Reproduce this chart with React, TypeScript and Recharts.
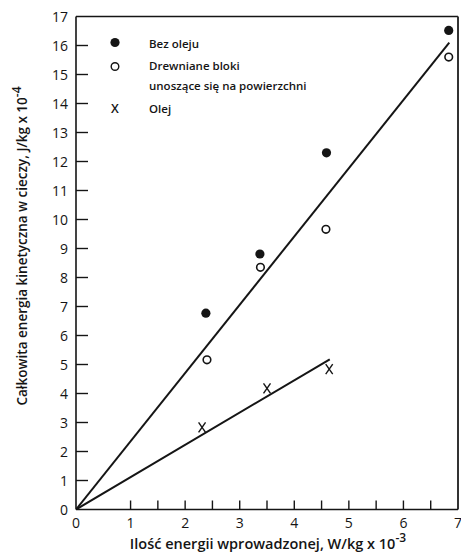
import React from "react";
import { ReferenceLine, Scatter, ScatterChart, XAxis, YAxis } from "recharts";

// measured points
const BEZ_OLEJU_X = [2.38, 3.37, 4.59, 6.83];
const BEZ_OLEJU_Y = [6.77, 8.81, 12.3, 16.52];
const BLOKI_X = [2.4, 3.38, 4.58, 6.83];
const BLOKI_Y = [5.16, 8.35, 9.66, 15.6];
const OLEJ_X = [2.31, 3.5, 4.64];
const OLEJ_Y = [2.83, 4.18, 4.84];

// fitted lines (start and end points)
const FIT_ALL_X = [0, 6.84];
const FIT_ALL_Y = [0, 16.1];
const FIT_OLEJ_X = [0, 4.65];
const FIT_OLEJ_Y = [0, 5.18];

const X_TICKS = [0, 1, 1.5, 2, 2.5, 3, 3.5, 4, 4.5, 5, 5.5, 6, 6.5, 7];
const Y_TICKS = [0, 1, 2, 3, 4, 5, 6, 7, 8, 9, 10, 11, 12, 13, 14, 15, 16, 17];

const zip = (xs: number[], ys: number[]) => xs.map((x, i) => ({ x, y: ys[i] }));

const INK = "#151515";
const FONT = "'Open Sans', 'Noto Sans', sans-serif";

const YTick = (props: any) => {
  const { x, y, payload } = props;
  const v = payload.value;
  const axisX = x + 8;
  return (
    <g>
      {v > 0 && v < 17 && (
        <line x1={axisX} x2={axisX + 12} y1={y} y2={y} stroke={INK} strokeWidth={1.4} />
      )}
      <text x={x} y={y} textAnchor="end" dominantBaseline="central" fontSize={14} fill={INK} fontFamily={FONT}>
        {v}
      </text>
    </g>
  );
};

const XTick = (props: any) => {
  const { x, y, payload } = props;
  const v = payload.value;
  const axisY = y - 8;
  return (
    <g>
      {v >= 1 && v < 7 && (
        <line x1={x} x2={x} y1={axisY} y2={axisY - 9} stroke={INK} strokeWidth={1.4} />
      )}
      {Number.isInteger(v) && (
        <text x={x} y={axisY + 13} textAnchor="middle" dominantBaseline="central" fontSize={14} fill={INK} fontFamily={FONT}>
          {v}
        </text>
      )}
    </g>
  );
};

const Dot = (p: any) => <circle cx={p.cx} cy={p.cy} r={4.6} fill={INK} />;
const Ring = (p: any) => (
  <circle cx={p.cx} cy={p.cy} r={3.8} fill="#fff" stroke={INK} strokeWidth={1.6} />
);
const Cross = (p: any) => (
  <g stroke={INK} strokeWidth={1.4}>
    <line x1={p.cx - 3.5} y1={p.cy - 5} x2={p.cx + 3.5} y2={p.cy + 5} />
    <line x1={p.cx + 3.5} y1={p.cy - 5} x2={p.cx - 3.5} y2={p.cy + 5} />
  </g>
);
const NoShape = () => <g />;

function Legend() {
  const txt = { fontSize: 11.5, fontWeight: 600, fill: INK, fontFamily: FONT } as const;
  return (
    <svg width={461} height={553} style={{ position: "absolute", left: 0, top: 0, pointerEvents: "none" }}>
      <circle cx={115} cy={42.5} r={4.6} fill={INK} />
      <text x={149} y={43} dominantBaseline="central" {...txt}>Bez oleju</text>
      <circle cx={115} cy={66.5} r={3.8} fill="#fff" stroke={INK} strokeWidth={1.4} />
      <text x={149} y={65.5} dominantBaseline="central" {...txt}>Drewniane bloki</text>
      <text x={149} y={85.5} dominantBaseline="central" {...txt}>unoszące się na powierzchni</text>
      <text x={115} y={108.5} textAnchor="middle" dominantBaseline="central" {...txt} fontSize={12.5}>X</text>
      <text x={149} y={108} dominantBaseline="central" {...txt}>Olej</text>

      <text
        transform="translate(22 246) rotate(-90)"
        textAnchor="middle"
        dominantBaseline="central"
        fontSize={13.5}
        fontWeight={600}
        fill={INK}
        fontFamily={FONT}
      >
        Całkowita energia kinetyczna w cieczy, J/kg x 10
        <tspan dy={-6} fontSize={12}>-4</tspan>
      </text>
      <text x={268} y={543} textAnchor="middle" dominantBaseline="central" fontSize={14.5} fontWeight={600} fill={INK} fontFamily={FONT}>
        Ilość energii wprowadzonej, W/kg x 10
        <tspan dy={-6} fontSize={12}>-3</tspan>
      </text>
    </svg>
  );
}

export default function App() {
  return (
    <div style={{ position: "absolute", left: 0, top: 0, width: 461, height: 553, background: "#fff" }}>
      <ScatterChart width={461} height={553} margin={{ top: 16.5, right: 3, bottom: 0, left: 0 }}>
        <XAxis
          type="number"
          dataKey="x"
          domain={[0, 7]}
          ticks={X_TICKS}
          interval={0}
          height={43.5}
          tickSize={6}
          tickMargin={2}
          tickLine={false}
          tick={<XTick />}
          axisLine={{ stroke: INK, strokeWidth: 1.6 }}
          allowDataOverflow
        />
        <YAxis
          type="number"
          dataKey="y"
          domain={[0, 17]}
          ticks={Y_TICKS}
          interval={0}
          width={76}
          tickSize={6}
          tickMargin={2}
          tickLine={false}
          tick={<YTick />}
          axisLine={{ stroke: INK, strokeWidth: 1.6 }}
          allowDataOverflow
        />
        <ReferenceLine y={17} stroke={INK} strokeWidth={1.4} />
        <ReferenceLine x={7} stroke="#333" strokeWidth={2} />
        <Scatter data={zip(FIT_ALL_X, FIT_ALL_Y)} line={{ stroke: INK, strokeWidth: 2 }} shape={NoShape} isAnimationActive={false} />
        <Scatter data={zip(FIT_OLEJ_X, FIT_OLEJ_Y)} line={{ stroke: INK, strokeWidth: 2 }} shape={NoShape} isAnimationActive={false} />
        <Scatter data={zip(BEZ_OLEJU_X, BEZ_OLEJU_Y)} shape={Dot} isAnimationActive={false} />
        <Scatter data={zip(BLOKI_X, BLOKI_Y)} shape={Ring} isAnimationActive={false} />
        <Scatter data={zip(OLEJ_X, OLEJ_Y)} shape={Cross} isAnimationActive={false} />
      </ScatterChart>
      <Legend />
    </div>
  );
}
